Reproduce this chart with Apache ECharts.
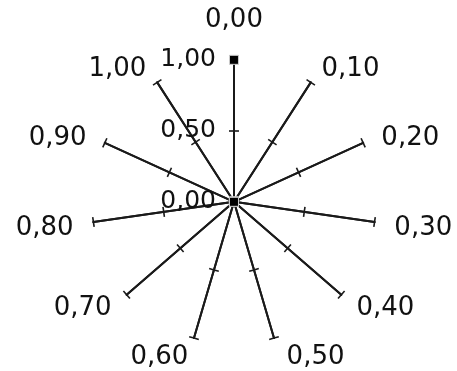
<!DOCTYPE html>
<html>
<head>
<meta charset="utf-8">
<script src="https://cdn.jsdelivr.net/npm/echarts@6/dist/echarts.min.js"></script>
<style>
  html, body { margin: 0; padding: 0; background: #fff; }
  #chart { width: 457px; height: 371px; }
</style>
</head>
<body>
<div id="chart"></div>
<script>
// spokes, listed clockwise from the top
var spokeNames = ['0,00', '0,10', '0,20', '0,30', '0,40', '0,50', '0,60', '0,70', '0,80', '0,90', '1,00'];
var spokeValues = [1, 0, 0, 0, 0, 0, 0, 0, 0, 0, 0];
var axisMin = 0;
var axisMax = 1;

document.addEventListener('DOMContentLoaded', function(){
  var chart = echarts.init(document.getElementById('chart'));

  // echarts radar runs counter-clockwise, so flip the order after the first spoke
  var order = [0].concat(spokeNames.slice(1).map(function(_, i){ return spokeNames.length - 1 - i; }));
  var names = order.map(function(i){ return spokeNames[i]; });
  var values = order.map(function(i){ return spokeValues[i]; });

  var fmt = function(v){ return Number(v).toFixed(2).replace('.', ','); };
  var font = { color: '#111', fontSize: 26, fontFamily: '"DejaVu Sans", sans-serif' };
  var sideNames = ['0,10', '0,20', '0,30', '0,80', '0,90', '1,00'];

  function indicators(withLabel){
    return names.map(function(n, i){
      var ind = { name: n, min: axisMin, max: axisMax };
      if (withLabel && i === 0) {
        ind.axisLabel = { show: true, margin: 18, formatter: fmt, color: font.color, fontSize: 25, fontFamily: font.fontFamily };
      }
      return ind;
    });
  }

  var common = {
    center: ['51.2%', '54.4%'],
    radius: 142,
    splitNumber: 2,
    shape: 'polygon',
    splitLine: { show: false },
    splitArea: { show: false },
    axisLine: { show: true, lineStyle: { color: '#1a1a1a', width: 2 } }
  };

  var txt = { color: font.color, fontSize: font.fontSize, fontFamily: font.fontFamily };

  var option = {
    backgroundColor: '#fff',
    animation: false,
    radar: [
      Object.assign({}, common, {
        indicator: indicators(true),
        axisTick: { show: true, length: 5, lineStyle: { color: '#1a1a1a', width: 1.6 } },
        axisLabel: { show: false },
        axisNameGap: 20,
        axisName: {
          color: font.color, fontSize: font.fontSize, fontFamily: font.fontFamily,
          formatter: function(v){
            if (v === spokeNames[0]) return '{top|' + v + '}';
            if (v === spokeNames[5]) return '{low|' + v + '}';
            if (sideNames.indexOf(v) >= 0) return '{side|' + v + '}';
            return v;
          },
          rich: {
            top: Object.assign({ padding: [0, 0, 7, 0] }, txt),
            side: Object.assign({ padding: [7, 0, 0, 0] }, txt),
            low: Object.assign({ padding: [0, 0, 0, 7] }, txt)
          }
        }
      }),
      // second copy only to draw the tick halves on the other side of each spoke
      Object.assign({}, common, {
        indicator: indicators(false),
        axisTick: { show: true, length: -5, lineStyle: { color: '#1a1a1a', width: 1.6 } },
        axisLabel: { show: false },
        axisName: { show: false }
      })
    ],
    series: [{
      type: 'radar',
      radarIndex: 0,
      symbol: 'rect',
      symbolSize: 9,
      itemStyle: { color: '#000', borderColor: '#ccc', borderWidth: 1 },
      lineStyle: { color: '#1a1a1a', width: 1.5 },
      data: [{ value: values }]
    }]
  };

  chart.setOption(option);
});
</script>
</body>
</html>
